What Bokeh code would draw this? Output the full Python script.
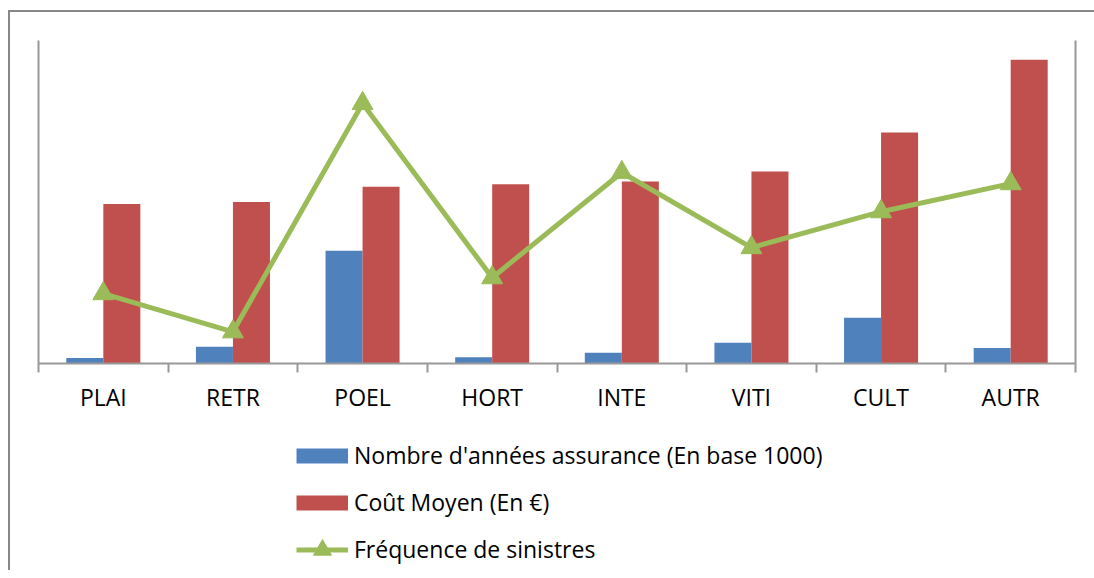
from bokeh.plotting import figure
from bokeh.layouts import column
from bokeh.models import Range1d, LinearAxis, FixedTicker, Legend, LegendItem, ColumnDataSource
from bokeh.embed import file_html
from bokeh.resources import INLINE

categories = ["PLAI", "RETR", "POEL", "HORT", "INTE", "VITI", "CULT", "AUTR"]
annees = [54, 166, 1118, 63, 106, 205, 453, 153]          # Nombre d'années assurance (En base 1000)
cout = [1581, 1600, 1752, 1775, 1802, 1901, 2288, 3009]    # Coût Moyen (En €)
frequence = [0.0346, 0.0157, 0.1288, 0.0425, 0.0946, 0.0574, 0.0752, 0.0891]  # Fréquence de sinistres
series_labels = ["Nombre d'années assurance (En base 1000)", "Coût Moyen (En €)", "Fréquence de sinistres"]

BLUE = "#4F81BD"
RED = "#C0504D"
GREEN = "#9BBB59"
GRAY = "#989898"
FONT = "Open Sans"
FS = "23px"
W = 1084

bw = 0.2855
idx = list(range(len(categories)))
src = ColumnDataSource(dict(
    center=[i + 0.5 for i in idx],
    xb=[i + 0.5 - bw / 2 for i in idx],
    xr=[i + 0.5 + bw / 2 for i in idx],
    annees=annees, cout=cout, freq=frequence,
))

p = figure(width=W, height=410, output_backend="svg", toolbar_location=None,
           x_range=Range1d(0, 8), y_range=Range1d(0, 3200),
           min_border_left=28, min_border_right=19, min_border_top=28, min_border_bottom=59,
           x_axis_type=None, y_axis_type=None)
p.outline_line_color = None
p.grid.visible = False
p.extra_y_ranges = {"freq": Range1d(0, 0.16)}

# x axis with ticks on category boundaries
xa = LinearAxis(ticker=FixedTicker(ticks=[i + 0.5 for i in idx], minor_ticks=list(range(len(categories) + 1))))
xa.major_label_overrides = {i + 0.5: c for i, c in zip(idx, categories)}
xa.major_tick_out = 0
xa.major_tick_in = 0
xa.minor_tick_in = 0
xa.minor_tick_out = 9
xa.minor_tick_line_color = GRAY
xa.minor_tick_line_width = 2
xa.axis_line_color = GRAY
xa.axis_line_width = 2
xa.major_label_text_font = FONT
xa.major_label_text_font_size = FS
xa.major_label_text_color = "#000000"
xa.major_label_standoff = 8
p.add_layout(xa, "below")

for side, rng in (("left", "default"), ("right", "freq")):
    ya = LinearAxis(ticker=FixedTicker(ticks=[]), y_range_name=rng)
    ya.major_tick_out = 0
    ya.major_tick_in = 0
    ya.minor_tick_out = 0
    ya.minor_tick_in = 0
    ya.axis_line_color = GRAY
    ya.axis_line_width = 2
    p.add_layout(ya, side)

p.vbar(x="xb", top="annees", width=bw, bottom=0, source=src, fill_color=BLUE, line_color=None)
p.vbar(x="xr", top="cout", width=bw, bottom=0, source=src, fill_color=RED, line_color=None)
p.line(x="center", y="freq", source=src, line_color=GREEN, line_width=5, y_range_name="freq")
p.scatter(x="center", y="freq", source=src, marker="triangle", size=21,
          fill_color=GREEN, line_color=GREEN, y_range_name="freq")

# legend area (separate figure below the chart; proxy glyphs sit outside its visible range)
lg = figure(width=W, height=148, output_backend="svg", toolbar_location=None,
            x_range=Range1d(0, 1), y_range=Range1d(0, 1),
            min_border=0, x_axis_type=None, y_axis_type=None)
lg.outline_line_color = None
lg.grid.visible = False
proxy = ColumnDataSource(dict(x=[-5.0, -6.0], y=[-5.0, -6.0]))
pb = lg.line(x="x", y="y", source=proxy, line_color=BLUE, line_width=15, line_cap="butt")
pr = lg.line(x="x", y="y", source=proxy, line_color=RED, line_width=15, line_cap="butt")
pl = lg.line(x="x", y="y", source=proxy, line_color=GREEN, line_width=5)
ps = lg.scatter(x="x", y="y", source=proxy, marker="triangle", size=19, fill_color=GREEN, line_color=GREEN)

legend = Legend(items=[
    LegendItem(label=series_labels[0], renderers=[pb]),
    LegendItem(label=series_labels[1], renderers=[pr]),
    LegendItem(label=series_labels[2], renderers=[pl, ps]),
], location=(258, -1.5))
legend.orientation = "vertical"
legend.glyph_width = 52
legend.glyph_height = 45
legend.label_height = 31
legend.label_standoff = 6
legend.label_text_font = FONT
legend.label_text_font_size = FS
legend.label_text_color = "#000000"
legend.spacing = 2
legend.padding = 0
legend.margin = 0
legend.border_line_color = None
legend.background_fill_alpha = 0
lg.add_layout(legend, "center")

layout = column(p, lg, spacing=0)
layout.styles = {"border-top": "2px solid #878787", "border-left": "2px solid #878787",
                 "margin-top": "10px", "margin-left": "8px"}

open("out.html", "w").write(file_html(layout, INLINE))
